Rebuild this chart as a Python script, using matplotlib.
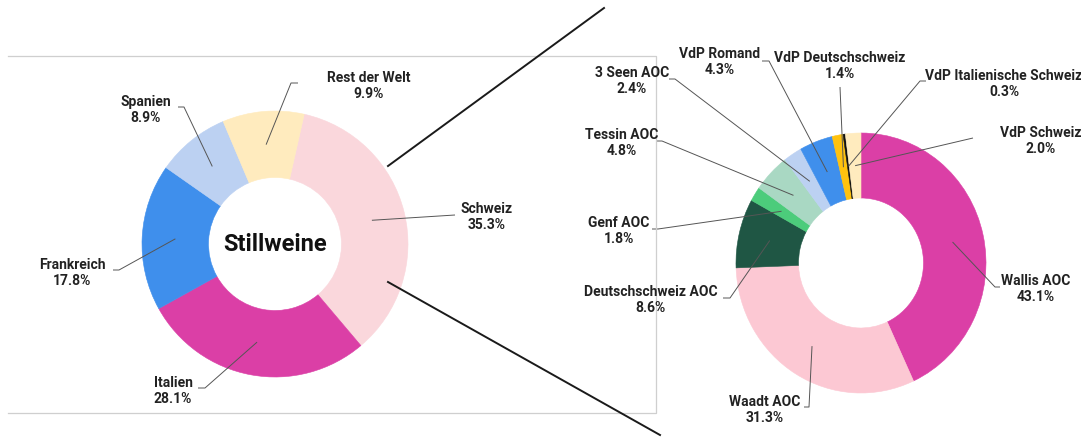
import numpy as np
import matplotlib
matplotlib.use("Agg")
import matplotlib.pyplot as plt

plt.rcParams['font.family'] = ['Roboto', 'DejaVu Sans']

# --- data -------------------------------------------------------------
left_labels = ['Schweiz', 'Italien', 'Frankreich', 'Spanien', 'Rest der Welt']
left_values = [35.3, 28.1, 17.8, 8.9, 9.9]
left_colors = ['#FAD7DC', '#DB3FA6', '#3F8FEC', '#BCD1F2', '#FFEBBE']
center_title = 'Stillweine'

right_labels = ['Wallis AOC', 'Waadt AOC', 'Deutschschweiz AOC', 'Genf AOC',
                'Tessin AOC', '3 Seen AOC', 'VdP Romand', 'VdP Deutschschweiz',
                'VdP Italienische Schweiz', 'VdP Schweiz']
right_values = [43.1, 31.3, 8.6, 1.8, 4.8, 2.4, 4.3, 1.4, 0.3, 2.0]
right_colors = ['#DB3FA6', '#FCC8D3', '#1F5644', '#4CCC7B', '#A9D8C3',
                '#BCD1F2', '#3F8FEC', '#FFC20E', '#111111', '#FFEBBE']

# --- layout (pixels) --------------------------------------------------
W, H = 1081, 439
left_box = (142, 112, 266, 266)     # x, y(top), w, h
right_box = (736, 134, 250, 260)

# text centre, elbow point, tick end x (None -> straight leader)
left_layout = [
    ((487, 217), (455, 216), None),
    ((173, 391), (205, 389), 198),
    ((72, 273), (119, 271), 113),
    ((146, 110), (184, 108), 178),
    ((369, 86), (291, 84), 298),
]
right_layout = [
    ((1036, 289), (995, 288), 1000),
    ((765, 410), (809, 408), 804),
    ((651, 300), (730, 299), 723),
    ((619, 231), (658, 230), 652),
    ((622, 143), (662, 142), 656),
    ((632, 81), (675, 80), 669),
    ((720, 62), (769, 62), 762),
    ((840, 66), (840, 88), None),
    ((1004, 84), (920, 82), 926),
    ((1041, 141), (973, 139), None),
]


def frac(box):
    x, y, w, h = box
    return [x / W, (H - y - h) / H, w / W, h / H]


fig = plt.figure(figsize=(W / 100, H / 100), dpi=100)

# overlay in pixel coordinates for frame, zoom lines, labels
ov = fig.add_axes([0, 0, 1, 1], zorder=5)
ov.set_xlim(0, W)
ov.set_ylim(H, 0)
ov.axis('off')


def donut(box, values, colors, start):
    ax = fig.add_axes(frac(box), zorder=1)
    wedges, _ = ax.pie(values, colors=colors, startangle=start, counterclock=False,
                       radius=1, wedgeprops=dict(width=0.5, linewidth=0.4))
    for w in wedges:
        w.set_edgecolor(w.get_facecolor())
    ax.set_aspect('auto')
    ax.set_xlim(-1, 1)
    ax.set_ylim(-1, 1)
    ax.axis('off')
    return ax, wedges


def to_overlay(ax, x, y):
    d = ax.transData.transform((x, y))
    return ov.transData.inverted().transform(d)


def add_labels(ax, wedges, labels, values, layout):
    for w, lab, v, (txt, elbow, tick) in zip(wedges, labels, values, layout):
        mid = np.deg2rad((w.theta1 + w.theta2) / 2)
        sx, sy = to_overlay(ax, 0.75 * np.cos(mid), 0.75 * np.sin(mid))
        xs, ys = [sx, elbow[0]], [sy, elbow[1]]
        if tick is not None:
            xs.append(tick)
            ys.append(elbow[1])
        ov.plot(xs, ys, color='#555555', lw=0.7, solid_capstyle='butt')
        ov.text(txt[0], txt[1], f'{lab}\n{v:.1f}%', ha='center', va='center',
                fontsize=10, fontweight='bold', color='#222222', linespacing=1.2)


axl, wl = donut(left_box, left_values, left_colors, 90 - 12.7)
axr, wr = donut(right_box, right_values, right_colors, 90)
fig.canvas.draw()

add_labels(axl, wl, left_labels, left_values, left_layout)
add_labels(axr, wr, right_labels, right_values, right_layout)

cx, cy = to_overlay(axl, 0, 0)
ov.text(cx, cy, center_title, ha='center', va='center', fontsize=17,
        fontweight='bold', color='#111111')

# frame around the left panel
ov.plot([8, 656, 656, 8], [57, 57, 414, 414], color='#cfcfcf', lw=0.9)

# zoom connector lines
ov.plot([388, 604], [167, 9], color='#1a1a1a', lw=1.4)
ov.plot([388, 660], [283, 436], color='#1a1a1a', lw=1.4)

fig.savefig('out.png', dpi=100)
